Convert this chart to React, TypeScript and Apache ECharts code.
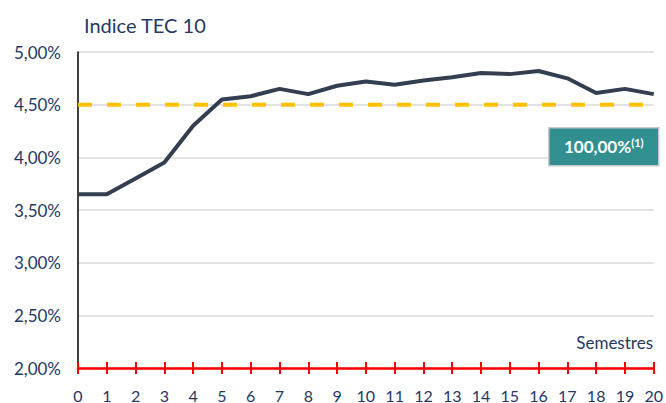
import React, { useEffect, useRef } from "react";
import * as echarts from "echarts";

const semesters = [0, 1, 2, 3, 4, 5, 6, 7, 8, 9, 10, 11, 12, 13, 14, 15, 16, 17, 18, 19, 20];
const indexValues = [3.65, 3.65, 3.8, 3.95, 4.3, 4.55, 4.58, 4.65, 4.6, 4.68, 4.72, 4.69, 4.73, 4.76, 4.8, 4.79, 4.82, 4.75, 4.61, 4.65, 4.6];
const barrier = 4.5;
const yTicks = { min: 2, max: 5, interval: 0.5 };
const titleText = "Indice TEC 10";
const xName = "Semestres";
const boxText = "100,00%";
const boxSup = "(1)";

const navy = "#1F3864";
const font = "Lato, 'Open Sans', sans-serif";

export default function App() {
  const ref = useRef<HTMLDivElement>(null);
  useEffect(() => {
    if (!ref.current) return;
    const chart = echarts.init(ref.current, null, { renderer: "svg" });
    chart.setOption({
      animation: false,
      backgroundColor: "#fff",
      textStyle: { fontFamily: font },
      grid: { left: 78, right: 10, top: 52, bottom: 32, containLabel: false },
      title: {
        text: titleText,
        left: 79,
        top: 10,
        textStyle: { color: navy, fontSize: 20, fontWeight: "normal", fontFamily: font },
      },
      xAxis: [
        {
          type: "value",
          min: 0,
          max: 20,
          interval: 1,
          axisLine: { show: true, lineStyle: { color: "#FF0000", width: 2.5 } },
          axisTick: { show: true, length: 6, lineStyle: { color: "#FF0000", width: 2 } },
          axisLabel: { color: navy, fontSize: 16, margin: 19, fontFamily: font },
          splitLine: { show: false },
          z: 5,
        },
        {
          type: "value",
          position: "bottom",
          min: 0,
          max: 20,
          interval: 1,
          axisLine: { show: false },
          axisTick: { show: true, inside: true, length: 6, lineStyle: { color: "#FF0000", width: 2 } },
          axisLabel: { show: false },
          splitLine: { show: false },
          z: 5,
        },
      ],
      yAxis: {
        type: "value",
        min: yTicks.min,
        max: yTicks.max,
        interval: yTicks.interval,
        axisLine: { show: true, lineStyle: { color: "#000", width: 1.5 } },
        axisTick: { show: false },
        axisLabel: {
          color: navy,
          fontSize: 17,
          margin: 17,
          fontFamily: font,
          formatter: (v: number) => v.toFixed(2).replace(".", ",") + "%",
        },
        splitLine: { show: true, lineStyle: { color: "#D9D9D9", width: 1.5 } },
      },
      series: [
        {
          type: "line",
          data: [
            [semesters[0], barrier],
            [semesters[semesters.length - 1], barrier],
          ],
          symbol: "none",
          lineStyle: { color: "#FFC000", width: 4, type: [14, 15] },
          z: 3,
        },
        {
          type: "line",
          data: semesters.map((s, i) => [s, indexValues[i]]),
          symbol: "none",
          lineStyle: { color: "#333F50", width: 4 },
          z: 4,
        },
      ],
      graphic: [
        {
          type: "text",
          right: 13,
          top: 334,
          z: 100,
          style: { text: xName, fill: navy, fontSize: 17, fontFamily: font },
        },
        {
          type: "group",
          left: 548,
          top: 127,
          z: 100,
          children: [
            {
              type: "rect",
              z: 100,
              shape: { x: 0, y: 0, width: 110, height: 38 },
              style: { fill: "#31908F", stroke: "#C8C8C8", lineWidth: 1.5 },
            },
            {
              type: "text",
              z: 101,
              x: 55,
              y: 19,
              style: {
                text: "{a|" + boxText + "}{b|" + boxSup + "}",
                align: "center",
                verticalAlign: "middle",
                rich: {
                  a: { fill: "#fff", fontSize: 17, fontWeight: "bold", fontFamily: font },
                  b: { fill: "#fff", fontSize: 11, fontWeight: "bold", fontFamily: font, verticalAlign: "top", padding: [0, 0, 8, 0] },
                },
              },
            },
          ],
        },
      ],
    });
    return () => chart.dispose();
  }, []);
  return <div ref={ref} style={{ width: 666, height: 403, position: "absolute", left: 0, top: 0 }} />;
}
